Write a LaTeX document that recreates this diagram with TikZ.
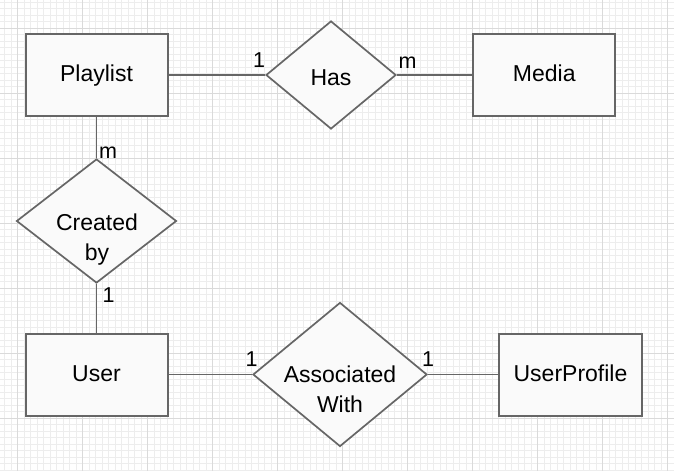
\documentclass[tikz,border=0pt]{standalone}
\usepackage{fontspec}
\setmainfont{Liberation Sans}
\usetikzlibrary{shapes.geometric}
\definecolor{edgegray}{HTML}{666666}
\definecolor{minorgrid}{HTML}{EDEDED}
\definecolor{majorgrid}{HTML}{DADADA}
\definecolor{boxfill}{HTML}{FAFAFA}
\tikzset{
  entity/.style={rectangle, draw=edgegray, line width=2pt, fill=boxfill,
    minimum width=142pt, minimum height=82pt, inner sep=0pt},
  relation/.style={diamond, draw=edgegray, line width=1.7pt, fill=boxfill,
    inner sep=0pt},
  maintext/.style={font=\fontsize{23}{30}\selectfont, inner sep=0pt, align=center},
  linetext/.style={font=\fontsize{23}{30}\selectfont, inner sep=0pt, text height=16.5pt, text depth=3pt},
  cardinality/.style={font=\fontsize{21.5}{25}\selectfont, inner sep=0pt, anchor=base},
  connector/.style={draw=edgegray, line width=1.7pt},
  minorline/.style={draw=minorgrid, line width=0.6pt},
  majorline/.style={draw=majorgrid, line width=0.8pt}
}
\begin{document}
\begin{tikzpicture}[x=1pt,y=-1pt]
\useasboundingbox[fill=white] (0,0) rectangle (674,471);
% grid
\foreach \k in {0,...,102} \draw[minorline] ({4.6+6.5*\k},0) -- ({4.6+6.5*\k},471);
\foreach \k in {0,...,72} \draw[minorline] (0,{2+6.5*\k}) -- (674,{2+6.5*\k});
\foreach \k in {0,...,10} \draw[majorline] ({17.6+65*\k},0) -- ({17.6+65*\k},471);
\foreach \k in {0,...,6} \draw[majorline] (0,{28+65*\k}) -- (674,{28+65*\k});

% entities
\node[entity] (playlist) at (96.5,75) {};
\node[entity] (media) at (544.3,75) {};
\node[entity] (user) at (96.5,374.5) {};
\node[entity, minimum width=143pt] (userprofile) at (570.5,374.5) {};

% relationships
\node[relation, minimum width=130pt, minimum height=108pt] (has) at (331,75) {};
\node[relation, minimum width=160pt, minimum height=124pt] (created) at (96.5,221) {};
\node[relation, minimum width=174pt, minimum height=144pt] (assoc) at (340,374.5) {};

% texts
\node[linetext] (playlisttxt) at (playlist.center) {Playlist};
\node[linetext] (mediatxt) at (media.center) {Media};
\node[linetext] (usertxt) at (user.center) {User};
\node[linetext] (userprofiletxt) at (userprofile.center) {UserProfile};
\node[linetext] (hastxt) at (331,78.5) {Has};
\node[maintext] (createdtxt) at (97,239.3) {Created\\by};
\node[maintext] (assoctxt) at (340,389) {Associated\\With};

% connectors
\draw[connector] (playlist.east) -- (has.west);
\draw[connector] (has.east) -- (media.west);
\draw[connector] (playlist.south) -- (created.north);
\draw[connector] (created.south) -- (user.north);
\draw[connector] (user.east) -- (assoc.west);
\draw[connector] (assoc.east) -- (userprofile.west);

% cardinalities
\node[cardinality] (c1) at (259,67.3) {1};
\node[cardinality] (c2) at (407.5,68) {m};
\node[cardinality] (c3) at (108,158) {m};
\node[cardinality] (c4) at (108.5,302) {1};
\node[cardinality] (c5) at (251.5,366) {1};
\node[cardinality] (c6) at (428,366) {1};
\end{tikzpicture}
\end{document}
